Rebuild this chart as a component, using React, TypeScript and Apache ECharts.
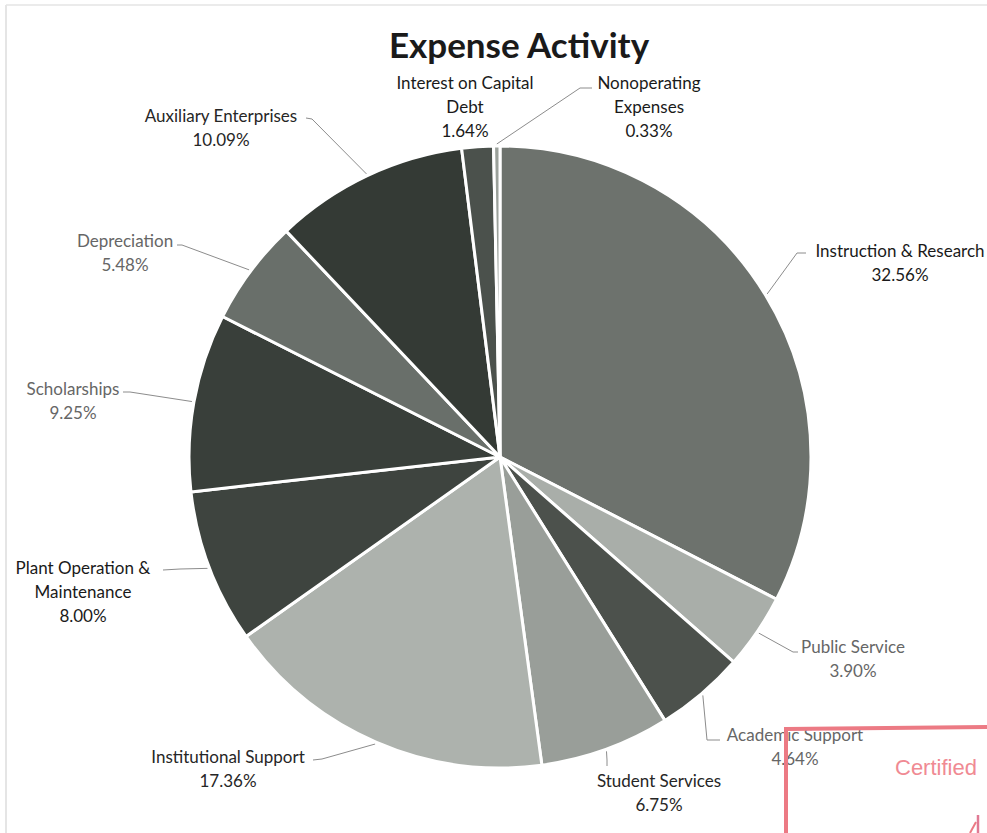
import React, { useEffect, useRef } from "react";
import * as echarts from "echarts";

// ---- data ----
const categories = [
  "Instruction & Research",
  "Public Service",
  "Academic Support",
  "Student Services",
  "Institutional Support",
  "Plant Operation & Maintenance",
  "Scholarships",
  "Depreciation",
  "Auxiliary Enterprises",
  "Interest on Capital Debt",
  "Nonoperating Expenses",
];
const labelNames = [
  "Instruction & Research",
  "Public Service",
  "Academic Support",
  "Student Services",
  "Institutional Support",
  "Plant Operation &\nMaintenance",
  "Scholarships",
  "Depreciation",
  "Auxiliary Enterprises",
  "Interest on Capital\nDebt",
  "Nonoperating\nExpenses",
];
const values = [32.56, 3.9, 4.64, 6.75, 17.36, 8.0, 9.25, 5.48, 10.09, 1.64, 0.33];

// ---- styling / layout ----
const sliceColors = [
  "#6d726d", "#a9aea9", "#4c514c", "#999e99", "#adb2ad", "#3e443f",
  "#393f3a", "#696f6a", "#343a35", "#4b514c", "#9ba19b",
];
const labelColors = [
  "#1a1a1a", "#666666", "#666666", "#262626", "#262626", "#1a1a1a",
  "#666666", "#666666", "#262626", "#1a1a1a", "#1a1a1a",
];
const CX = 500;
const CY = 457;
const R = 311;
// label block centres
const labelPos: number[][] = [
  [900, 262], [853, 658], [795, 746], [659, 792], [228, 768], [83, 591],
  [73, 400], [125, 252], [221, 127], [465, 106], [649, 106],
];
// leader line elbow and end points (null = no leader)
const leaderPts: (number[][] | null)[] = [
  [[797, 253], [806, 253]],
  [[793, 652], [798, 652]],
  [[707, 740], [720, 740]],
  [[607, 760], [607, 766]],
  [[322, 759], [313, 760]],
  [[180, 569], [163, 570]],
  [[130, 392], [123, 392]],
  [[182, 245], [177, 245]],
  [[312, 119], [306, 118]],
  null,
  [[580, 88], [592, 88]],
];

function midAngle(i: number): number {
  const total = values.reduce((a, b) => a + b, 0);
  let before = 0;
  for (let k = 0; k < i; k++) before += values[k];
  return ((before + values[i] / 2) / total) * Math.PI * 2;
}

export default function App() {
  const ref = useRef<HTMLDivElement>(null);
  useEffect(() => {
    document.body.style.margin = "0";
    if (!ref.current) return;
    const chart = echarts.init(ref.current, undefined, { renderer: "svg" });
    const data = categories.map((name, i) => ({
      name,
      value: values[i],
      itemStyle: { color: sliceColors[i] },
      label: { color: labelColors[i] },
      labelLine: { show: leaderPts[i] !== null },
    }));
    chart.setOption({
      animation: false,
      backgroundColor: "#ffffff",
      title: {
        text: "Expense Activity",
        left: 514,
        top: 21,
        textAlign: "center",
        textStyle: {
          fontFamily: "Lato",
          fontWeight: "bold",
          fontSize: 35,
          color: "#1a1a1a",
        },
      },
      series: [
        {
          type: "pie",
          center: [CX, CY],
          radius: [0, R],
          startAngle: 90,
          clockwise: true,
          avoidLabelOverlap: false,
          minShowLabelAngle: 0,
          itemStyle: { borderColor: "#ffffff", borderWidth: 3 },
          label: {
            show: true,
            position: "outside",
            fontFamily: "Lato",
            fontSize: 17,
            lineHeight: 24,
            align: "center",
            formatter: (p: any) =>
              `${labelNames[p.dataIndex]}\n${values[p.dataIndex].toFixed(2)}%`,
          },
          labelLine: {
            show: true,
            lineStyle: { color: "#8c8c8c", width: 1 },
          },
          labelLayout: (params: any) => {
            const i = params.dataIndex;
            const p = labelPos[i];
            const res: any = {
              x: p[0],
              y: p[1],
              align: "center",
              verticalAlign: "middle",
            };
            const pts = leaderPts[i];
            if (pts) {
              const a = midAngle(i);
              const r = R + 2;
              const start = [CX + r * Math.sin(a), CY - r * Math.cos(a)];
              res.labelLinePoints = [start, pts[0], pts[1]];
            }
            return res;
          },
          data,
        },
      ],
      graphic: [
        {
          type: "line",
          shape: { x1: 6, y1: 5, x2: 6, y2: 833 },
          style: { stroke: "#dcdcdc", lineWidth: 1.5 },
        },
        {
          type: "line",
          shape: { x1: 6, y1: 5, x2: 987, y2: 5 },
          style: { stroke: "#e4e4e4", lineWidth: 1.5 },
        },
        {
          type: "line",
          z: 100,
          shape: { x1: 786, y1: 729, x2: 1000, y2: 727 },
          style: { stroke: "#ec7a84", lineWidth: 4 },
        },
        {
          type: "line",
          z: 100,
          shape: { x1: 786, y1: 727, x2: 786, y2: 840 },
          style: { stroke: "#ec7a84", lineWidth: 4 },
        },
        {
          type: "text",
          z: 100,
          left: 895,
          top: 756,
          style: {
            text: "Certified",
            fill: "#f08a93",
            font: "22px 'Liberation Sans', Arial, sans-serif",
          },
        },
        {
          type: "line",
          z: 100,
          shape: { x1: 978, y1: 815, x2: 978, y2: 833 },
          style: { stroke: "#e07a94", lineWidth: 2.5 },
        },
        {
          type: "line",
          z: 100,
          shape: { x1: 970, y1: 833, x2: 976, y2: 822 },
          style: { stroke: "#ec7a84", lineWidth: 2 },
        },
      ],
    });
    return () => chart.dispose();
  }, []);
  return <div ref={ref} style={{ width: 987, height: 833 }} />;
}
